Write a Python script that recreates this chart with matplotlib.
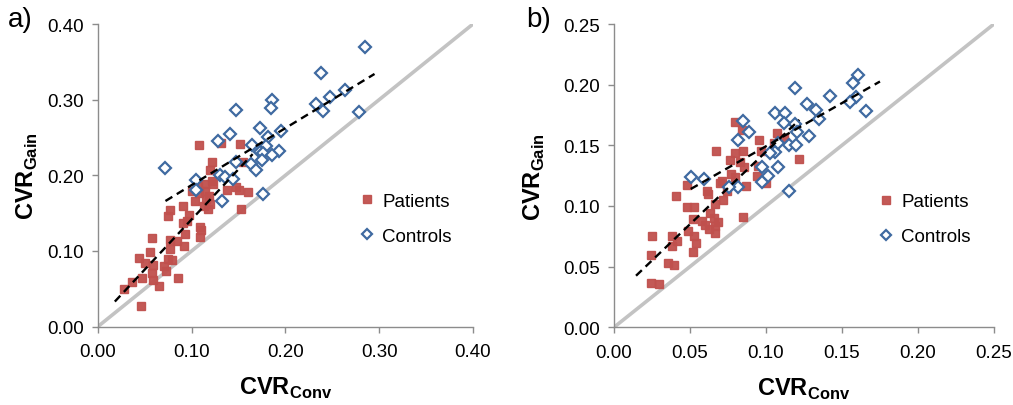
import matplotlib
matplotlib.use('Agg')
import matplotlib.pyplot as plt
import numpy as np

plt.rcParams['font.family'] = ['Liberation Sans', 'DejaVu Sans']
plt.rcParams['mathtext.fontset'] = 'custom'
plt.rcParams['mathtext.bf'] = 'Liberation Sans:bold'
plt.rcParams['mathtext.rm'] = 'Liberation Sans'

# ---- panel a) data ----
a_pat_x = [0.108, 0.131, 0.152, 0.122, 0.155, 0.119, 0.122, 0.107, 0.114, 0.123,
           0.100, 0.114, 0.138, 0.147, 0.150, 0.160, 0.104, 0.115, 0.113, 0.120,
           0.091, 0.117, 0.153, 0.109, 0.077, 0.075, 0.097, 0.095, 0.091, 0.110,
           0.109, 0.0925, 0.0575, 0.077, 0.084, 0.092, 0.077, 0.056, 0.044, 0.050,
           0.059, 0.075, 0.079, 0.070, 0.073, 0.0575, 0.047, 0.059, 0.085, 0.065,
           0.036, 0.028, 0.046, 0.108, 0.118]
a_pat_y = [0.240, 0.243, 0.241, 0.218, 0.218, 0.207, 0.192, 0.186, 0.188, 0.188,
           0.179, 0.179, 0.181, 0.184, 0.181, 0.178, 0.166, 0.168, 0.159, 0.162,
           0.160, 0.155, 0.156, 0.131, 0.154, 0.146, 0.147, 0.140, 0.137, 0.128,
           0.119, 0.122, 0.117, 0.114, 0.113, 0.106, 0.103, 0.098, 0.091, 0.084,
           0.082, 0.089, 0.088, 0.080, 0.073, 0.071, 0.0645, 0.062, 0.0645, 0.054,
           0.059, 0.049, 0.027, 0.176, 0.172]
a_con_x = [0.285, 0.238, 0.186, 0.185, 0.233, 0.240, 0.248, 0.264, 0.278, 0.195,
           0.173, 0.147, 0.141, 0.128, 0.181, 0.164, 0.179, 0.173, 0.176, 0.193,
           0.186, 0.175, 0.147, 0.163, 0.169, 0.105, 0.130, 0.135, 0.144, 0.105,
           0.132, 0.176, 0.072]
a_con_y = [0.370, 0.335, 0.300, 0.289, 0.294, 0.285, 0.304, 0.313, 0.284, 0.259,
           0.262, 0.286, 0.254, 0.245, 0.250, 0.240, 0.239, 0.231, 0.229, 0.232,
           0.227, 0.220, 0.218, 0.215, 0.207, 0.194, 0.200, 0.198, 0.195, 0.181,
           0.166, 0.175, 0.209]
a_pat_fit_x = [0.018, 0.165]
a_pat_fit_y = [0.033, 0.228]
a_con_fit_x = [0.072, 0.295]
a_con_fit_y = [0.166, 0.334]
a_ticks = [0.0, 0.1, 0.2, 0.3, 0.4]

# ---- panel b) data ----
b_pat_x = [0.0796, 0.0844, 0.0954, 0.1075, 0.112, 0.067, 0.0796, 0.085, 0.0763, 0.0829,
           0.0857, 0.097, 0.105, 0.122, 0.094, 0.095, 0.077, 0.0796, 0.0708, 0.0697,
           0.087, 0.100, 0.061, 0.048, 0.041, 0.062, 0.0745, 0.063, 0.066, 0.0686,
           0.0664, 0.0664, 0.060, 0.0577, 0.0627, 0.0664, 0.072, 0.0847, 0.048, 0.0528,
           0.052, 0.049, 0.0528, 0.054, 0.0517, 0.038, 0.0412, 0.038, 0.0248, 0.0243,
           0.0357, 0.0395, 0.0243, 0.0298]
b_pat_y = [0.169, 0.1625, 0.154, 0.160, 0.156, 0.145, 0.1435, 0.1455, 0.138, 0.136,
           0.132, 0.1455, 0.152, 0.1385, 0.125, 0.133, 0.126, 0.1235, 0.1208, 0.119,
           0.1165, 0.119, 0.1125, 0.1175, 0.108, 0.110, 0.112, 0.094, 0.0898, 0.087,
           0.0837, 0.078, 0.084, 0.088, 0.081, 0.102, 0.105, 0.091, 0.0988, 0.0988,
           0.089, 0.0796, 0.0755, 0.0694, 0.0618, 0.0755, 0.0713, 0.0672, 0.075, 0.0598,
           0.053, 0.0516, 0.0362, 0.0357]
b_con_x = [0.1607, 0.157, 0.119, 0.142, 0.159, 0.155, 0.127, 0.133, 0.1656, 0.106,
           0.1125, 0.135, 0.112, 0.119, 0.1205, 0.128, 0.115, 0.120, 0.106, 0.108,
           0.0847, 0.089, 0.0814, 0.1026, 0.0976, 0.108, 0.1015, 0.0976, 0.0818, 0.076,
           0.059, 0.0505, 0.115]
b_con_y = [0.208, 0.201, 0.197, 0.191, 0.190, 0.186, 0.184, 0.179, 0.178, 0.177,
           0.177, 0.172, 0.168, 0.1675, 0.161, 0.158, 0.150, 0.150, 0.1447, 0.152,
           0.170, 0.161, 0.154, 0.144, 0.132, 0.132, 0.125, 0.120, 0.116, 0.116,
           0.122, 0.1235, 0.1125]
b_pat_fit_x = [0.0145, 0.122]
b_pat_fit_y = [0.0425, 0.171]
b_con_fit_x = [0.0505, 0.175]
b_con_fit_y = [0.114, 0.2026]
b_ticks = [0.0, 0.05, 0.10, 0.15, 0.20, 0.25]

RED = '#C0504D'
BLUE = '#3F6AA1'
AXIS_GRAY = '#8C8C8C'

fig = plt.figure(figsize=(10.13, 4.06), dpi=100)
ax_a = fig.add_axes([0.0967, 0.1933, 0.3702, 0.745])
ax_b = fig.add_axes([0.6061, 0.1914, 0.3751, 0.747])


def draw_panel(ax, ticks, pat_x, pat_y, con_x, con_y, pfx, pfy, cfx, cfy, ylab_x):
    lim = ticks[-1]
    ax.plot([0, lim], [0, lim], color='#C3C3C3', lw=2.6, zorder=1, solid_capstyle='butt')
    ax.plot(pat_x, pat_y, 's', color=RED, ms=6.0, mec=RED, alpha=0.95,
            label='Patients', zorder=3)
    ax.plot(con_x, con_y, 'D', ms=6.0, mfc='white', mec=BLUE, mew=1.6,
            label='Controls', zorder=4)
    ax.plot(pfx, pfy, color='black', lw=1.7, dashes=(3.4, 2.2), zorder=5)
    ax.plot(cfx, cfy, color='black', lw=1.7, dashes=(3.4, 2.2), zorder=5)

    ax.set_xlim(0, lim)
    ax.set_ylim(0, lim)
    ax.set_xticks(ticks)
    ax.set_yticks(ticks)
    ax.set_xticklabels(['%.2f' % t for t in ticks])
    ax.set_yticklabels(['%.2f' % t for t in ticks])
    for side in ['top', 'right']:
        ax.spines[side].set_visible(False)
    for side in ['left', 'bottom']:
        ax.spines[side].set_color(AXIS_GRAY)
        ax.spines[side].set_linewidth(1.0)
    ax.tick_params(axis='both', direction='out', length=4, width=1.0,
                   color=AXIS_GRAY, labelsize=13.5, labelcolor='black')
    ax.tick_params(axis='x', pad=8)
    ax.tick_params(axis='y', pad=6)
    ax.set_xlabel(r'$\mathbf{CVR}_{\mathbf{Conv}}$', fontsize=17)
    ax.set_ylabel(r'$\mathbf{CVR}_{\mathbf{Gain}}$', fontsize=17)
    ax.xaxis.set_label_coords(0.5, -0.16)
    ax.yaxis.set_label_coords(ylab_x, 0.5)
    ax.set_facecolor('none')
    ax.legend(loc='upper left', bbox_to_anchor=(0.68, 0.467), frameon=False,
              fontsize=13.5, handlelength=0.7, handletextpad=0.45,
              labelspacing=0.95, borderaxespad=0.0, markerscale=0.9)


draw_panel(ax_a, a_ticks, a_pat_x, a_pat_y, a_con_x, a_con_y,
           a_pat_fit_x, a_pat_fit_y, a_con_fit_x, a_con_fit_y, -0.155)
draw_panel(ax_b, b_ticks, b_pat_x, b_pat_y, b_con_x, b_con_y,
           b_pat_fit_x, b_pat_fit_y, b_con_fit_x, b_con_fit_y, -0.175)

fig.text(0.008, 0.95, 'a)', fontsize=20, va='center', ha='left')
fig.text(0.519, 0.95, 'b)', fontsize=20, va='center', ha='left')

fig.savefig('out.png', dpi=100)
